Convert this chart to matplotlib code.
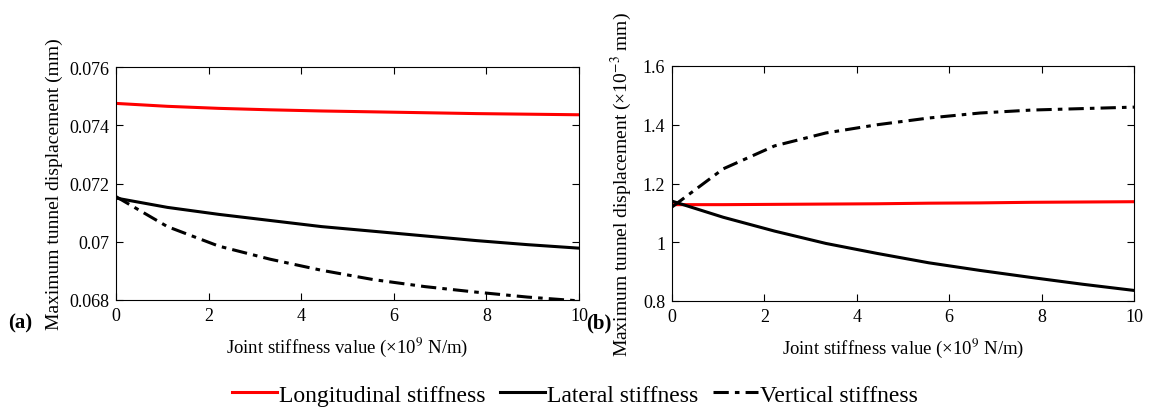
import matplotlib.pyplot as plt
import numpy as np

plt.rcParams['font.family'] = ['Liberation Serif', 'DejaVu Serif']
plt.rcParams['mathtext.fontset'] = 'stix'

# joint stiffness (x10^9 N/m)
x = [0, 1.11, 2.22, 3.33, 4.44, 5.56, 6.67, 7.78, 8.89, 10]

# (a) maximum tunnel displacement (mm)
a_long = [0.07475, 0.07465, 0.07458, 0.07453, 0.07449, 0.07446, 0.07443, 0.07440, 0.07438, 0.07436]
a_lat = [0.07150, 0.07118, 0.07094, 0.07073, 0.07052, 0.07036, 0.07020, 0.07004, 0.06990, 0.06978]
a_vert = [0.07155, 0.07052, 0.06985, 0.06940, 0.06902, 0.06870, 0.06846, 0.06827, 0.06810, 0.06797]

# (b) maximum tunnel displacement (x10^-3 mm)
b_long = [1.128, 1.128, 1.129, 1.130, 1.131, 1.133, 1.134, 1.136, 1.137, 1.138]
b_lat = [1.140, 1.085, 1.038, 0.996, 0.962, 0.930, 0.904, 0.880, 0.857, 0.836]
b_vert = [1.120, 1.250, 1.328, 1.372, 1.400, 1.423, 1.440, 1.450, 1.455, 1.460]

a_ticks = [0.068, 0.07, 0.072, 0.074, 0.076]
a_labels = ['0.068', '0.07', '0.072', '0.074', '0.076']
b_ticks = [0.8, 1.0, 1.2, 1.4, 1.6]
b_labels = ['0.8', '1', '1.2', '1.4', '1.6']

fig = plt.figure(figsize=(11.5, 4.1), dpi=100)
ax1 = fig.add_axes([116/1150, 1 - 301/410, 463/1150, 233/410])
ax2 = fig.add_axes([672/1150, 1 - 302/410, 462/1150, 235/410])

lw = 2.2
for ax, lo, la, ve in [(ax1, a_long, a_lat, a_vert), (ax2, b_long, b_lat, b_vert)]:
    ax.plot(x, lo, color='#ff0000', lw=lw, label='Longitudinal stiffness')
    ax.plot(x, la, color='black', lw=lw, label='Lateral stiffness')
    ax.plot(x, ve, color='black', lw=lw, ls=(0, (5, 2, 1.5, 2)), label='Vertical stiffness')
    ax.set_xlim(0, 10)
    ax.set_xticks([0, 2, 4, 6, 8, 10])
    ax.tick_params(direction='in', top=True, right=True, labelsize=13, length=5, pad=5)
    ax.set_xlabel('Joint stiffness value (×10$^9$ N/m)', fontsize=13.5, labelpad=8)

ax1.set_ylim(0.068, 0.076)
ax1.set_yticks(a_ticks)
ax1.set_yticklabels(a_labels)
ax1.set_ylabel('Maximum tunnel displacement (mm)', fontsize=14, labelpad=4)

ax2.set_ylim(0.8, 1.6)
ax2.set_yticks(b_ticks)
ax2.set_yticklabels(b_labels)
ax2.set_ylabel('Maximum tunnel displacement (×10$^{-3}$ mm)', fontsize=14, labelpad=6)

fig.text(8/1150, 1 - 323/410, '(a)', fontsize=15, fontweight='bold', va='center')
fig.text(586/1150, 1 - 323/410, '(b)', fontsize=15, fontweight='bold', va='center')

h, l = ax1.get_legend_handles_labels()
fig.legend(h, l, loc='center', bbox_to_anchor=(0.5, 1 - 396/410), ncol=3, frameon=False,
           fontsize=17, handlelength=1.9, handletextpad=0.1, columnspacing=0.6)

fig.savefig('out.png', dpi=100)
